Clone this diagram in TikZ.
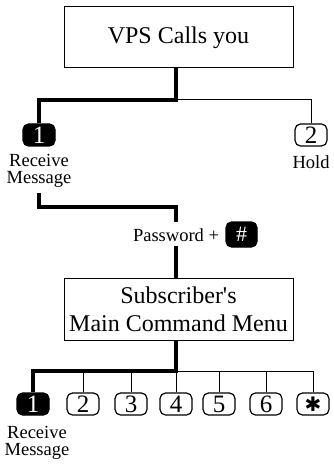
\documentclass[tikz,border=0pt]{standalone}
\usepackage{amsmath}
\usepackage{amssymb}
\usepackage{fontspec}
\setmainfont{Liberation Serif}
\newfontfamily\dingfont{DejaVu Sans}
\tikzset{titlebox/.style={draw, line width=1pt, minimum width=229pt, minimum height=61pt, align=center, font=\fontsize{24}{28}\selectfont}}
\tikzset{key/.style={draw, line width=1.2pt, rounded corners=5.5pt, minimum width=32pt, minimum height=22pt, inner sep=0pt, font=\fontsize{25}{25}\selectfont}}
\tikzset{blackkey/.style={key, fill=black, text=white}}
\tikzset{caption/.style={align=center, inner sep=0pt, font=\fontsize{18.5}{17.5}\selectfont}}
\tikzset{mainline/.style={line width=4.5pt}}
\tikzset{sideline/.style={line width=1pt}}

\begin{document}
\begin{tikzpicture}[x=1pt, y=-1pt]
        \useasboundingbox (0,0) rectangle (333,465);
        % incoming call
        \node[titlebox] (vps) at (178.5,37.5) {VPS Calls you};
        \coordinate (j1) at (176,100);
        \node[blackkey] (r1) at (39,135) {1};
        \node[key] (h2) at (311,135) {2};
        \node[caption] (rlbl) at (39,171) {Receive\\Message};
        \node[caption] (hlbl) at (311,162) {Hold};
        \draw[sideline] (j1) -| (h2.north);
        \draw[mainline] (vps.south -| j1) -- (j1) -| (r1.north);
        % login
        \node[caption] (pw) at (176,235) {Password +};
        \node[blackkey, minimum width=31pt, minimum height=25pt, font=\fontsize{22}{22}\selectfont] (hash) at (241.5,234.5) {\#};
        \node[titlebox, minimum height=62pt] (menu) at (178.5,309) {Subscriber\textquotesingle s\\Main Command Menu};
        \draw[mainline] (rlbl.south) ++(0,5) -- ++(0,14) -| ([yshift=6pt]pw.north);
        \draw[mainline] ([yshift=-4pt]pw.south) -- (menu.north -| pw);
        % main menu keys
        \coordinate (j2) at (176,371);
        \node[blackkey] (s1) at (33,404) {1};
        \foreach \k/\x in {2/83, 3/131, 4/176, 5/219, 6/266}
            \node[key] (s\k) at (\x,404) {\k};
        \node[key, font=\dingfont\fontsize{20}{20}\selectfont] (s7) at (313,404) {✱};
        \foreach \k in {2,...,7}
            \draw[sideline] (s\k.north) -- (s\k.north |- j2);
        \draw[sideline] (j2) -- (s7.north |- j2);
        \draw[mainline] (menu.south -| j2) -- (j2) -| (s1.north);
        \node[caption] (slbl) at (37,443) {Receive\\Message};
    \end{tikzpicture}
\end{document}
